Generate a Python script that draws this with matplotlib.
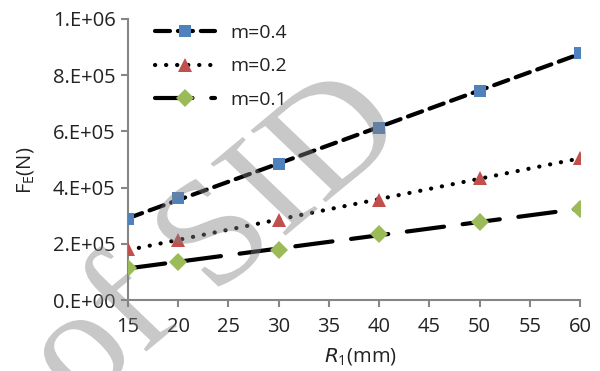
import numpy as np
import matplotlib
matplotlib.use("Agg")
import matplotlib.pyplot as plt
from matplotlib.textpath import TextPath
from matplotlib.font_manager import FontProperties
from matplotlib.patches import PathPatch
from matplotlib.transforms import Affine2D

# Data
r1 = [15, 20, 30, 40, 50, 60]
fe_m04 = [2.88e5, 3.63e5, 4.84e5, 6.12e5, 7.44e5, 8.79e5]
fe_m02 = [1.80e5, 2.14e5, 2.85e5, 3.55e5, 4.34e5, 5.05e5]
fe_m01 = [1.14e5, 1.36e5, 1.78e5, 2.35e5, 2.78e5, 3.24e5]
labels = ["m=0.4", "m=0.2", "m=0.1"]
xticks = [15, 20, 25, 30, 35, 40, 45, 50, 55, 60]
yticks = [0, 2e5, 4e5, 6e5, 8e5, 1e6]
ytick_labels = ["0.E+00", "2.E+05", "4.E+05", "6.E+05", "8.E+05", "1.E+06"]
watermark = "of SID"

plt.rcParams['font.family'] = ['Open Sans', 'DejaVu Sans']

W, H = 600, 371
fig = plt.figure(figsize=(W/100, H/100), dpi=100)
ax = fig.add_axes([128/W, 1-300/H, 452/W, 281/H])

series = [fe_m04, fe_m02, fe_m01]
colors = ["#4F81BD", "#C0504D", "#9BBB59"]
markers = ["s", "^", "D"]
msizes = [9, 10, 9]
dashes = [(3.6, 1.9), (0.05, 2.6), (9.0, 4.5)]

lw = 3.0
handles = []
xs = np.array(r1, dtype=float)
xfit = np.linspace(min(r1), max(r1), 50)
for ys, c, mk, ms, ds, lab in zip(series, colors, markers, msizes, dashes, labels):
    p = np.polyfit(xs, ys, 1)
    ax.plot(xfit, np.polyval(p, xfit), color="black", lw=lw,
            dashes=ds, dash_capstyle="round", zorder=3)
    ax.plot(r1, ys, linestyle="none", marker=mk, color=c, markersize=ms,
            markeredgewidth=0, zorder=4)
    h, = ax.plot([], [], color="black", lw=lw, dashes=ds, dash_capstyle="round",
                 marker=mk, markerfacecolor=c, markeredgewidth=0, markersize=ms)
    handles.append(h)

ax.set_xlim(15, 60)
ax.set_ylim(0, 1e6)
ax.set_xticks(xticks)
ax.set_xticklabels([str(v) for v in xticks])
ax.set_yticks(yticks)
ax.set_yticklabels(ytick_labels)

for s in ["top", "right"]:
    ax.spines[s].set_visible(False)
for s in ["left", "bottom"]:
    ax.spines[s].set_color("#868686")
    ax.spines[s].set_linewidth(1.5)
ax.tick_params(axis="both", colors="#868686", labelcolor="#222222", labelsize=14.5,
               length=5, width=1.5, direction="out")
ax.tick_params(axis="y", pad=4)
ax.tick_params(axis="x", pad=7)

ax.set_ylabel(r"F$_\mathregular{E}$(N)", fontsize=14.5, color="#222222")
ax.yaxis.set_label_coords(-0.2035, 0.463)
ax.set_xlabel(r"$\mathit{R}_\mathregular{1}$(mm)", fontsize=14.5, color="#222222")
ax.xaxis.set_label_coords(0.515, -0.165)

leg = ax.legend(handles, labels, loc="upper left", bbox_to_anchor=(0.02, 1.045),
                frameon=False, fontsize=14, handlelength=3.1, handletextpad=0.8,
                labelspacing=0.8, labelcolor="#222222")

# watermark: rotated, horizontally stretched serif text, semi-transparent on top
fp = FontProperties(family="Liberation Serif")
tp = TextPath((0, 0), watermark, size=1, prop=fp)
tp_head = TextPath((0, 0), watermark[:4], size=1, prop=fp)  # up to and incl. "S"
s_center_u = tp_head.get_extents().x1 - 0.25
E, ang, k = 150.0, 43.0, 1.12
M = Affine2D().scale(E).rotate_deg(ang).scale(k, 1.0)
px, py = M.transform((s_center_u, 0.33))
target = (205.0, H - 235.0)
M = M.translate(target[0] - px, target[1] - py)
wm = PathPatch(M.transform_path(tp), facecolor="#808080", edgecolor="none",
               alpha=0.43, zorder=10)
wm.set_transform(Affine2D())
fig.add_artist(wm)

fig.savefig("out.png", dpi=100)
